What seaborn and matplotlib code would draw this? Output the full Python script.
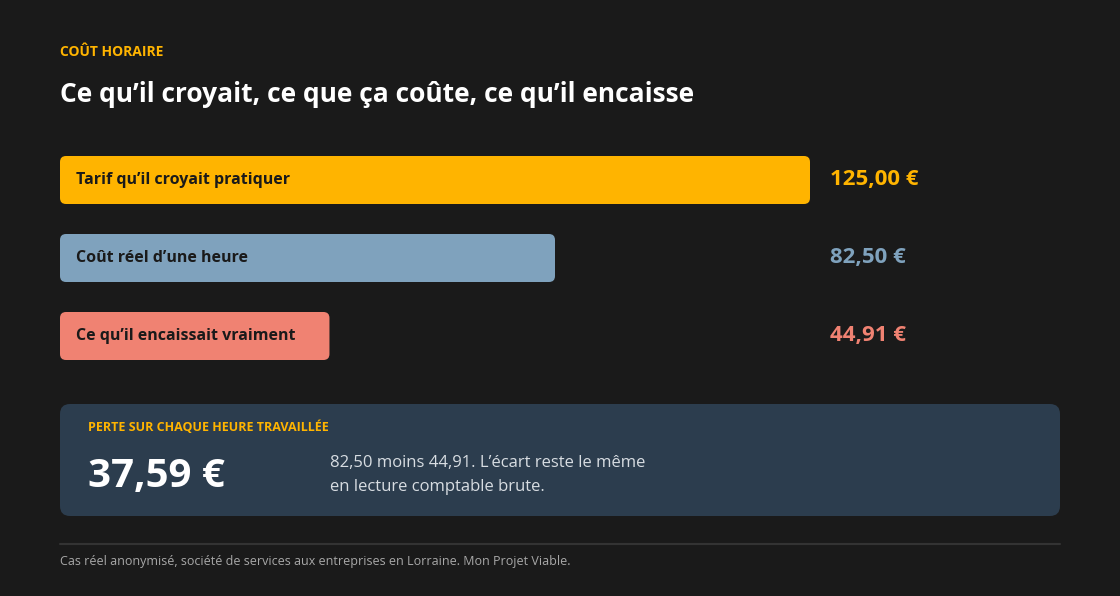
import matplotlib
matplotlib.use("Agg")
import matplotlib.pyplot as plt
import pandas as pd
import seaborn as sns
from matplotlib.patches import FancyBboxPatch

labels = ["Tarif qu\u2019il croyait pratiquer", "Co\u00fbt r\u00e9el d\u2019une heure", "Ce qu\u2019il encaissait vraiment"]
values = [125.00, 82.50, 44.91]
value_texts = ["125,00 \u20ac", "82,50 \u20ac", "44,91 \u20ac"]
colors = ["#ffb400", "#7fa2bd", "#f08272"]
loss_text = "37,59 \u20ac"

BG = "#1a1a1a"
W, H = 1120, 596

sns.set_theme(style="white")
plt.rcParams["font.family"] = ["Open Sans", "DejaVu Sans"]

fig = plt.figure(figsize=(W / 100, H / 100), dpi=100, facecolor=BG)


def fx(x):
    return x / W


def fy(y):
    return 1 - y / H


# bar area: x 60..1060 px, y 141..375 px
ax = fig.add_axes([fx(60), fy(375), fx(1000), (375 - 141) / H])
ax.set_facecolor(BG)
df = pd.DataFrame({"label": labels, "value": values})
sns.barplot(data=df, x="value", y="label", hue="label", palette=colors, legend=False,
            width=48 / 78, ax=ax, orient="h")
xmax = 1000 / 6
ax.set_xlim(0, xmax)
ax.set_ylim(2.5, -0.5)
ax.axis("off")

xu = xmax / 1000
yu = 3 / 234
for p, c in zip(list(ax.patches), colors):
    x0, y0, w, h = p.get_x(), p.get_y(), p.get_width(), p.get_height()
    p.remove()
    ax.add_patch(FancyBboxPatch((x0, y0), w, h, boxstyle=f"round,pad=0,rounding_size={6 * xu}",
                                mutation_aspect=yu / xu, facecolor=c, edgecolor="none"))

for i, (lab, vt, c) in enumerate(zip(labels, value_texts, colors)):
    yc = 180 + 78 * i
    fig.text(fx(76), fy(yc), lab, color="#1a1a1a", fontsize=11.5, fontweight="bold", va="center")
    fig.text(fx(830), fy(yc), vt, color=c, fontsize=16, fontweight="bold", va="center")

fig.text(fx(60), fy(52), "CO\u00dbT HORAIRE", color="#ffb400", fontsize=10, fontweight="bold", va="center")
fig.text(fx(60), fy(95), "Ce qu\u2019il croyait, ce que \u00e7a co\u00fbte, ce qu\u2019il encaisse",
         color="white", fontsize=19, fontweight="bold", va="center")

# loss panel
pax = fig.add_axes([0, 0, 1, 1], zorder=-1)
pax.set_xlim(0, W)
pax.set_ylim(H, 0)
pax.axis("off")
pax.add_patch(FancyBboxPatch((60, 404), 1000, 112, boxstyle="round,pad=0,rounding_size=10",
                             facecolor="#2c3d4e", edgecolor="none"))
pax.plot([60, 1060], [544, 544], color="#333333", lw=1.5)

fig.text(fx(88), fy(427), "PERTE SUR CHAQUE HEURE TRAVAILL\u00c9E", color="#ffb400",
         fontsize=9, fontweight="bold", va="center")
fig.text(fx(88), fy(476), loss_text, color="white", fontsize=29, fontweight="bold", va="center")
fig.text(fx(330), fy(463), "82,50 moins 44,91. L\u2019\u00e9cart reste le m\u00eame",
         color="#d8dde2", fontsize=12, va="center")
fig.text(fx(330), fy(487), "en lecture comptable brute.", color="#d8dde2", fontsize=12, va="center")

fig.text(fx(60), fy(562), "Cas r\u00e9el anonymis\u00e9, soci\u00e9t\u00e9 de services aux entreprises en Lorraine. Mon Projet Viable.",
         color="#a8a8a8", fontsize=9, va="center")

fig.savefig("out.png", dpi=100, facecolor=BG)
